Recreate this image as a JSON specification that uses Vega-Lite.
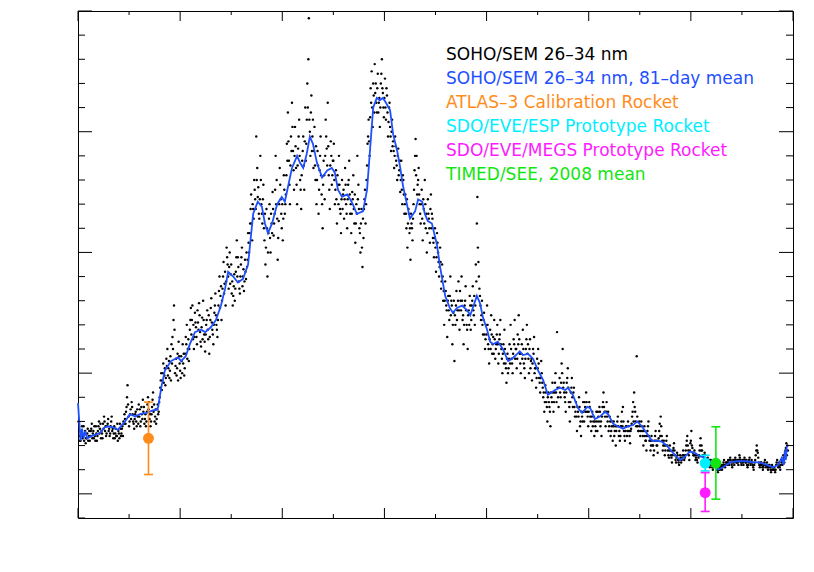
{
"$schema":"https://vega.github.io/schema/vega-lite/v6.json",
"width":715,"height":507,
"autosize":{"type":"none"},
"padding":{"left":78,"top":11,"right":21,"bottom":54},
"background":"white",
"config":{
 "font":"DejaVu Sans",
 "view":{"stroke":"black","strokeWidth":1},
 "axis":{"grid":false,"ticks":false,"domainColor":"black","domainWidth":1,"labelColor":"black","titleColor":"black","labelFontSize":17,"titleFontSize":17,"titleFontWeight":"normal","labelFont":"DejaVu Sans","titleFont":"DejaVu Sans","labelFlush":false,"labelOverlap":false,"labelBound":false,"zindex":1}
},
"datasets":{
"xmaj":[{"v":1996},{"v":1998},{"v":2000},{"v":2002},{"v":2004},{"v":2006},{"v":2008},{"v":2010}],
"xmin":[{"v":1997},{"v":1999},{"v":2001},{"v":2003},{"v":2005},{"v":2007},{"v":2009}],
"ymaj":[{"v":0.5},{"v":1.0},{"v":1.5},{"v":2.0},{"v":2.5}],
"ymin":[{"v":0.4},{"v":0.6},{"v":0.7},{"v":0.8},{"v":0.9},{"v":1.1},{"v":1.2},{"v":1.3},{"v":1.4},{"v":1.6},{"v":1.7},{"v":1.8},{"v":1.9},{"v":2.1},{"v":2.2},{"v":2.3},{"v":2.4}],
"sem":[
{"t":1996.01,"v":0.80},{"t":1996.03,"v":0.74},{"t":1996.05,"v":0.72},{"t":1996.07,"v":0.76},{"t":1996.09,"v":0.73},{"t":1996.11,"v":0.78},{"t":1996.13,"v":0.75},{"t":1996.15,"v":0.71},{"t":1996.17,"v":0.73},{"t":1996.19,"v":0.77},{"t":1996.21,"v":0.74},{"t":1996.23,"v":0.72},{"t":1996.25,"v":0.76},{"t":1996.27,"v":0.79},{"t":1996.29,"v":0.75},{"t":1996.31,"v":0.73},{"t":1996.33,"v":0.74},{"t":1996.35,"v":0.78},{"t":1996.37,"v":0.72},{"t":1996.39,"v":0.76},{"t":1996.41,"v":0.80},{"t":1996.43,"v":0.77},{"t":1996.45,"v":0.73},{"t":1996.47,"v":0.75},{"t":1996.49,"v":0.79},{"t":1996.51,"v":0.82},{"t":1996.53,"v":0.76},{"t":1996.55,"v":0.74},{"t":1996.57,"v":0.78},{"t":1996.59,"v":0.81},{"t":1996.61,"v":0.77},{"t":1996.63,"v":0.75},{"t":1996.65,"v":0.80},{"t":1996.67,"v":0.76},{"t":1996.69,"v":0.73},{"t":1996.71,"v":0.78},{"t":1996.73,"v":0.75},{"t":1996.75,"v":0.74},{"t":1996.77,"v":0.79},{"t":1996.79,"v":0.76},{"t":1996.81,"v":0.73},{"t":1996.83,"v":0.77},{"t":1996.85,"v":0.75},{"t":1996.87,"v":0.78},{"t":1996.89,"v":0.80},
{"t":1996.91,"v":0.83},{"t":1996.93,"v":0.79},{"t":1996.95,"v":0.86},{"t":1996.97,"v":0.95},{"t":1996.99,"v":0.82},{"t":1997.01,"v":0.80},{"t":1997.03,"v":0.85},{"t":1997.05,"v":0.88},{"t":1997.07,"v":0.83},{"t":1997.09,"v":0.79},{"t":1997.11,"v":0.81},{"t":1997.13,"v":0.84},{"t":1997.15,"v":0.78},{"t":1997.17,"v":0.82},{"t":1997.19,"v":0.87},{"t":1997.21,"v":0.85},{"t":1997.23,"v":0.80},{"t":1997.25,"v":0.83},{"t":1997.27,"v":0.89},{"t":1997.29,"v":0.86},{"t":1997.31,"v":0.81},{"t":1997.33,"v":0.78},{"t":1997.35,"v":0.84},{"t":1997.37,"v":0.90},{"t":1997.39,"v":0.88},{"t":1997.41,"v":0.83},{"t":1997.43,"v":0.80},{"t":1997.45,"v":0.86},{"t":1997.47,"v":0.92},{"t":1997.49,"v":0.87},{"t":1997.51,"v":0.82},{"t":1997.53,"v":0.79},{"t":1997.55,"v":0.85},{"t":1997.57,"v":0.83},{"t":1997.59,"v":0.88},
{"t":1997.61,"v":0.94},{"t":1997.63,"v":1.00},{"t":1997.65,"v":0.97},{"t":1997.67,"v":1.04},{"t":1997.69,"v":0.99},{"t":1997.71,"v":0.95},{"t":1997.73,"v":1.06},{"t":1997.75,"v":1.10},{"t":1997.77,"v":1.02},{"t":1997.79,"v":0.98},{"t":1997.81,"v":1.07},{"t":1997.83,"v":1.12},{"t":1997.85,"v":1.15},{"t":1997.87,"v":1.22},{"t":1997.88,"v":1.28},{"t":1997.89,"v":1.18},{"t":1997.91,"v":1.03},{"t":1997.93,"v":0.99},{"t":1997.95,"v":1.08},{"t":1997.97,"v":1.13},{"t":1997.99,"v":1.04},
{"t":1998.01,"v":0.98},{"t":1998.03,"v":1.05},{"t":1998.05,"v":1.12},{"t":1998.07,"v":1.08},{"t":1998.09,"v":1.02},{"t":1998.11,"v":1.15},{"t":1998.13,"v":1.20},{"t":1998.15,"v":1.10},{"t":1998.17,"v":1.05},{"t":1998.19,"v":1.18},{"t":1998.21,"v":1.27},{"t":1998.23,"v":1.22},{"t":1998.25,"v":1.14},{"t":1998.27,"v":1.10},{"t":1998.29,"v":1.25},{"t":1998.31,"v":1.19},{"t":1998.33,"v":1.12},{"t":1998.35,"v":1.21},{"t":1998.37,"v":1.29},{"t":1998.39,"v":1.17},{"t":1998.41,"v":1.11},{"t":1998.43,"v":1.23},{"t":1998.45,"v":1.30},{"t":1998.47,"v":1.16},{"t":1998.49,"v":1.09},{"t":1998.51,"v":1.20},{"t":1998.53,"v":1.26},{"t":1998.55,"v":1.14},{"t":1998.57,"v":1.08},{"t":1998.59,"v":1.22},{"t":1998.61,"v":1.31},{"t":1998.63,"v":1.18},{"t":1998.65,"v":1.12},{"t":1998.67,"v":1.25},{"t":1998.69,"v":1.33},{"t":1998.71,"v":1.20},{"t":1998.73,"v":1.15},{"t":1998.75,"v":1.28},{"t":1998.77,"v":1.40},{"t":1998.79,"v":1.32},{"t":1998.81,"v":1.22},{"t":1998.83,"v":1.35},{"t":1998.85,"v":1.46},{"t":1998.87,"v":1.37},{"t":1998.89,"v":1.28},{"t":1998.91,"v":1.52},{"t":1998.93,"v":1.45},{"t":1998.95,"v":1.35},
{"t":1998.97,"v":1.50},{"t":1998.99,"v":1.41},{"t":1999.01,"v":1.33},{"t":1999.03,"v":1.28},{"t":1999.05,"v":1.36},{"t":1999.07,"v":1.30},{"t":1999.09,"v":1.42},{"t":1999.11,"v":1.55},{"t":1999.13,"v":1.48},{"t":1999.15,"v":1.38},{"t":1999.17,"v":1.33},{"t":1999.19,"v":1.45},{"t":1999.21,"v":1.52},{"t":1999.23,"v":1.40},{"t":1999.25,"v":1.34},{"t":1999.27,"v":1.47},{"t":1999.29,"v":1.39},{"t":1999.31,"v":1.44},{"t":1999.33,"v":1.58},{"t":1999.35,"v":1.50},{"t":1999.37,"v":1.62},{"t":1999.39,"v":1.74},{"t":1999.41,"v":1.55},{"t":1999.43,"v":1.68},{"t":1999.45,"v":1.80},{"t":1999.47,"v":1.72},{"t":1999.49,"v":1.98},{"t":1999.51,"v":1.85},{"t":1999.53,"v":1.77},{"t":1999.55,"v":1.64},{"t":1999.57,"v":1.90},{"t":1999.59,"v":1.70},{"t":1999.61,"v":1.62},{"t":1999.63,"v":1.78},{"t":1999.65,"v":1.55},{"t":1999.67,"v":1.45},{"t":1999.69,"v":1.68},{"t":1999.71,"v":1.40},{"t":1999.73,"v":1.58},{"t":1999.75,"v":1.70},{"t":1999.77,"v":1.50},{"t":1999.79,"v":1.62},{"t":1999.81,"v":1.75},{"t":1999.83,"v":1.57},{"t":1999.85,"v":1.66},{"t":1999.87,"v":1.90},{"t":1999.89,"v":1.80},{"t":1999.91,"v":1.47},{"t":1999.93,"v":1.63},{"t":1999.95,"v":1.85},{"t":1999.97,"v":1.72},{"t":1999.99,"v":1.60},
{"t":2000.01,"v":1.55},{"t":2000.03,"v":1.82},{"t":2000.05,"v":1.66},{"t":2000.07,"v":1.74},{"t":2000.09,"v":1.95},{"t":2000.11,"v":2.08},{"t":2000.13,"v":1.88},{"t":2000.15,"v":1.70},{"t":2000.17,"v":1.98},{"t":2000.19,"v":2.12},{"t":2000.21,"v":1.92},{"t":2000.23,"v":1.76},{"t":2000.25,"v":2.02},{"t":2000.27,"v":1.85},{"t":2000.29,"v":1.70},{"t":2000.31,"v":1.93},{"t":2000.33,"v":2.05},{"t":2000.35,"v":1.80},{"t":2000.37,"v":1.68},{"t":2000.39,"v":1.88},{"t":2000.41,"v":1.98},{"t":2000.43,"v":1.76},{"t":2000.45,"v":2.10},{"t":2000.47,"v":1.95},{"t":2000.49,"v":2.20},{"t":2000.51,"v":2.30},{"t":2000.52,"v":2.47},{"t":2000.53,"v":2.05},{"t":2000.55,"v":1.90},{"t":2000.57,"v":2.15},{"t":2000.59,"v":1.98},{"t":2000.61,"v":1.85},{"t":2000.63,"v":2.02},{"t":2000.65,"v":1.80},{"t":2000.67,"v":1.70},{"t":2000.69,"v":1.92},{"t":2000.71,"v":1.66},{"t":2000.73,"v":1.84},{"t":2000.75,"v":1.98},{"t":2000.77,"v":1.74},{"t":2000.79,"v":1.60},{"t":2000.81,"v":1.88},{"t":2000.83,"v":1.72},{"t":2000.85,"v":2.05},{"t":2000.87,"v":1.93},{"t":2000.89,"v":2.12},{"t":2000.91,"v":1.82},{"t":2000.93,"v":1.68},{"t":2000.95,"v":1.96},{"t":2000.97,"v":1.78},{"t":2000.99,"v":1.88},
{"t":2001.01,"v":1.95},{"t":2001.03,"v":1.70},{"t":2001.05,"v":1.84},{"t":2001.07,"v":1.62},{"t":2001.09,"v":1.78},{"t":2001.11,"v":1.90},{"t":2001.13,"v":1.68},{"t":2001.15,"v":1.58},{"t":2001.17,"v":1.80},{"t":2001.19,"v":1.74},{"t":2001.21,"v":1.64},{"t":2001.23,"v":1.85},{"t":2001.25,"v":1.70},{"t":2001.27,"v":1.60},{"t":2001.29,"v":1.78},{"t":2001.31,"v":1.88},{"t":2001.33,"v":1.66},{"t":2001.35,"v":1.58},{"t":2001.37,"v":1.75},{"t":2001.39,"v":1.82},{"t":2001.41,"v":1.62},{"t":2001.43,"v":1.54},{"t":2001.45,"v":1.70},{"t":2001.47,"v":1.90},{"t":2001.49,"v":1.78},{"t":2001.51,"v":1.60},{"t":2001.53,"v":1.50},{"t":2001.55,"v":1.68},{"t":2001.57,"v":1.44},{"t":2001.59,"v":1.56},{"t":2001.61,"v":1.72},{"t":2001.63,"v":1.62},{"t":2001.65,"v":1.80},{"t":2001.67,"v":1.95},{"t":2001.69,"v":2.05},{"t":2001.71,"v":1.90},{"t":2001.73,"v":2.18},{"t":2001.75,"v":2.25},{"t":2001.77,"v":2.02},{"t":2001.79,"v":2.15},{"t":2001.81,"v":2.28},{"t":2001.83,"v":2.20},{"t":2001.85,"v":2.08},{"t":2001.87,"v":2.24},{"t":2001.89,"v":2.12},{"t":2001.91,"v":2.02},{"t":2001.93,"v":2.20},{"t":2001.95,"v":2.30},{"t":2001.97,"v":2.16},{"t":2001.99,"v":2.06},
{"t":2002.01,"v":2.22},{"t":2002.03,"v":2.05},{"t":2002.05,"v":2.15},{"t":2002.07,"v":1.98},{"t":2002.09,"v":2.10},{"t":2002.11,"v":2.02},{"t":2002.13,"v":1.92},{"t":2002.15,"v":2.05},{"t":2002.17,"v":1.96},{"t":2002.19,"v":1.85},{"t":2002.21,"v":1.98},{"t":2002.23,"v":1.88},{"t":2002.25,"v":1.80},{"t":2002.27,"v":1.93},{"t":2002.29,"v":1.84},{"t":2002.31,"v":1.75},{"t":2002.33,"v":1.88},{"t":2002.35,"v":1.70},{"t":2002.37,"v":1.80},{"t":2002.39,"v":1.66},{"t":2002.41,"v":1.74},{"t":2002.43,"v":1.60},{"t":2002.45,"v":1.52},{"t":2002.47,"v":1.68},{"t":2002.49,"v":1.58},{"t":2002.51,"v":1.47},{"t":2002.53,"v":1.62},{"t":2002.55,"v":1.55},{"t":2002.57,"v":1.70},{"t":2002.59,"v":1.84},{"t":2002.61,"v":1.97},{"t":2002.63,"v":1.90},{"t":2002.65,"v":1.78},{"t":2002.67,"v":1.85},{"t":2002.69,"v":1.70},{"t":2002.71,"v":1.62},{"t":2002.73,"v":1.76},{"t":2002.75,"v":1.55},{"t":2002.77,"v":1.68},{"t":2002.79,"v":1.80},{"t":2002.81,"v":1.60},{"t":2002.83,"v":1.50},{"t":2002.85,"v":1.72},{"t":2002.87,"v":1.64},{"t":2002.89,"v":1.54},{"t":2002.91,"v":1.74},{"t":2002.93,"v":1.66},{"t":2002.95,"v":1.56},{"t":2002.97,"v":1.48},{"t":2002.99,"v":1.60},
{"t":2003.01,"v":1.42},{"t":2003.03,"v":1.58},{"t":2003.05,"v":1.50},{"t":2003.07,"v":1.40},{"t":2003.09,"v":1.52},{"t":2003.11,"v":1.35},{"t":2003.13,"v":1.45},{"t":2003.15,"v":1.30},{"t":2003.17,"v":1.20},{"t":2003.19,"v":1.38},{"t":2003.21,"v":1.28},{"t":2003.23,"v":1.15},{"t":2003.25,"v":1.32},{"t":2003.27,"v":1.22},{"t":2003.29,"v":1.40},{"t":2003.31,"v":1.30},{"t":2003.33,"v":1.12},{"t":2003.35,"v":1.25},{"t":2003.37,"v":1.05},{"t":2003.39,"v":1.20},{"t":2003.41,"v":1.34},{"t":2003.43,"v":1.26},{"t":2003.45,"v":1.38},{"t":2003.47,"v":1.18},{"t":2003.49,"v":1.30},{"t":2003.51,"v":1.40},{"t":2003.53,"v":1.22},{"t":2003.55,"v":1.12},{"t":2003.57,"v":1.28},{"t":2003.59,"v":1.36},{"t":2003.61,"v":1.20},{"t":2003.63,"v":1.10},{"t":2003.65,"v":1.26},{"t":2003.67,"v":1.32},{"t":2003.69,"v":1.18},{"t":2003.71,"v":1.28},{"t":2003.73,"v":1.36},{"t":2003.75,"v":1.24},{"t":2003.77,"v":1.20},{"t":2003.79,"v":1.45},{"t":2003.81,"v":1.62},{"t":2003.82,"v":1.73},{"t":2003.83,"v":1.52},{"t":2003.85,"v":1.40},{"t":2003.87,"v":1.32},{"t":2003.89,"v":1.22},{"t":2003.91,"v":1.30},{"t":2003.93,"v":1.16},{"t":2003.95,"v":1.25},{"t":2003.97,"v":1.10},{"t":2003.99,"v":1.20},
{"t":2004.01,"v":1.28},{"t":2004.03,"v":1.12},{"t":2004.05,"v":1.04},{"t":2004.07,"v":1.18},{"t":2004.09,"v":1.24},{"t":2004.11,"v":1.08},{"t":2004.13,"v":1.15},{"t":2004.15,"v":1.22},{"t":2004.17,"v":1.06},{"t":2004.19,"v":1.12},{"t":2004.21,"v":1.20},{"t":2004.23,"v":1.04},{"t":2004.25,"v":1.14},{"t":2004.27,"v":1.22},{"t":2004.29,"v":1.10},{"t":2004.31,"v":1.00},{"t":2004.33,"v":1.12},{"t":2004.35,"v":1.18},{"t":2004.37,"v":1.04},{"t":2004.39,"v":0.96},{"t":2004.41,"v":1.08},{"t":2004.43,"v":1.02},{"t":2004.45,"v":1.12},{"t":2004.47,"v":1.20},{"t":2004.49,"v":1.06},{"t":2004.51,"v":1.00},{"t":2004.53,"v":1.14},{"t":2004.55,"v":1.22},{"t":2004.57,"v":1.10},{"t":2004.59,"v":1.02},{"t":2004.61,"v":1.16},{"t":2004.63,"v":1.24},{"t":2004.65,"v":1.08},{"t":2004.67,"v":1.00},{"t":2004.69,"v":1.12},{"t":2004.71,"v":1.18},{"t":2004.73,"v":1.04},{"t":2004.75,"v":0.98},{"t":2004.77,"v":1.10},{"t":2004.79,"v":1.20},{"t":2004.81,"v":1.12},{"t":2004.83,"v":1.00},{"t":2004.85,"v":1.14},{"t":2004.87,"v":1.05},{"t":2004.89,"v":0.97},{"t":2004.91,"v":1.10},{"t":2004.93,"v":1.15},{"t":2004.95,"v":1.02},{"t":2004.97,"v":0.94},{"t":2004.99,"v":1.06},
{"t":2005.01,"v":1.10},{"t":2005.03,"v":0.98},{"t":2005.05,"v":0.92},{"t":2005.07,"v":1.05},{"t":2005.09,"v":0.96},{"t":2005.11,"v":0.90},{"t":2005.13,"v":0.84},{"t":2005.15,"v":0.95},{"t":2005.17,"v":0.88},{"t":2005.19,"v":0.80},{"t":2005.21,"v":0.92},{"t":2005.23,"v":0.86},{"t":2005.25,"v":0.78},{"t":2005.27,"v":0.90},{"t":2005.29,"v":0.96},{"t":2005.31,"v":0.84},{"t":2005.33,"v":0.92},{"t":2005.35,"v":1.00},{"t":2005.37,"v":0.88},{"t":2005.38,"v":1.17},{"t":2005.39,"v":0.94},{"t":2005.41,"v":0.86},{"t":2005.43,"v":0.98},{"t":2005.45,"v":0.90},{"t":2005.47,"v":1.04},{"t":2005.49,"v":1.10},{"t":2005.51,"v":0.96},{"t":2005.53,"v":0.90},{"t":2005.55,"v":0.84},{"t":2005.57,"v":0.96},{"t":2005.59,"v":1.02},{"t":2005.61,"v":0.88},{"t":2005.63,"v":0.80},{"t":2005.65,"v":0.92},{"t":2005.67,"v":0.98},{"t":2005.69,"v":0.86},{"t":2005.71,"v":0.94},{"t":2005.73,"v":0.82},{"t":2005.75,"v":0.88},{"t":2005.77,"v":0.76},{"t":2005.79,"v":0.84},{"t":2005.81,"v":0.90},{"t":2005.83,"v":0.78},{"t":2005.85,"v":0.74},{"t":2005.87,"v":0.82},{"t":2005.89,"v":0.88},{"t":2005.91,"v":0.80},{"t":2005.93,"v":0.86},{"t":2005.95,"v":0.92},{"t":2005.97,"v":0.84},{"t":2005.99,"v":0.78},
{"t":2006.01,"v":0.88},{"t":2006.03,"v":0.82},{"t":2006.05,"v":0.76},{"t":2006.07,"v":0.84},{"t":2006.09,"v":0.80},{"t":2006.11,"v":0.74},{"t":2006.13,"v":0.78},{"t":2006.15,"v":0.84},{"t":2006.17,"v":0.76},{"t":2006.19,"v":0.82},{"t":2006.21,"v":0.86},{"t":2006.23,"v":0.78},{"t":2006.25,"v":0.74},{"t":2006.27,"v":0.86},{"t":2006.29,"v":0.92},{"t":2006.31,"v":0.84},{"t":2006.33,"v":0.78},{"t":2006.35,"v":0.88},{"t":2006.37,"v":0.80},{"t":2006.39,"v":0.76},{"t":2006.41,"v":0.82},{"t":2006.43,"v":0.74},{"t":2006.45,"v":0.78},{"t":2006.47,"v":0.72},{"t":2006.49,"v":0.80},{"t":2006.51,"v":0.76},{"t":2006.53,"v":0.70},{"t":2006.55,"v":0.78},{"t":2006.57,"v":0.82},{"t":2006.59,"v":0.74},{"t":2006.61,"v":0.72},{"t":2006.63,"v":0.78},{"t":2006.65,"v":0.84},{"t":2006.67,"v":0.86},{"t":2006.69,"v":0.76},{"t":2006.71,"v":0.72},{"t":2006.73,"v":0.78},{"t":2006.75,"v":0.74},{"t":2006.77,"v":0.80},{"t":2006.79,"v":0.76},{"t":2006.81,"v":0.71},{"t":2006.83,"v":0.77},{"t":2006.85,"v":0.82},{"t":2006.87,"v":0.88},{"t":2006.89,"v":0.92},{"t":2006.91,"v":0.84},{"t":2006.93,"v":0.78},{"t":2006.94,"v":1.07},{"t":2006.95,"v":0.82},{"t":2006.97,"v":0.76},{"t":2006.99,"v":0.80},
{"t":2007.01,"v":0.74},{"t":2007.03,"v":0.80},{"t":2007.05,"v":0.76},{"t":2007.07,"v":0.70},{"t":2007.09,"v":0.78},{"t":2007.11,"v":0.72},{"t":2007.13,"v":0.68},{"t":2007.15,"v":0.76},{"t":2007.17,"v":0.80},{"t":2007.19,"v":0.72},{"t":2007.21,"v":0.68},{"t":2007.23,"v":0.74},{"t":2007.25,"v":0.70},{"t":2007.27,"v":0.66},{"t":2007.29,"v":0.72},{"t":2007.31,"v":0.76},{"t":2007.33,"v":0.70},{"t":2007.35,"v":0.67},{"t":2007.37,"v":0.73},{"t":2007.39,"v":0.79},{"t":2007.41,"v":0.82},{"t":2007.43,"v":0.74},{"t":2007.45,"v":0.68},{"t":2007.47,"v":0.72},{"t":2007.49,"v":0.66},{"t":2007.51,"v":0.70},{"t":2007.53,"v":0.74},{"t":2007.55,"v":0.68},{"t":2007.57,"v":0.65},{"t":2007.59,"v":0.70},{"t":2007.61,"v":0.66},{"t":2007.63,"v":0.63},{"t":2007.65,"v":0.68},{"t":2007.67,"v":0.71},{"t":2007.69,"v":0.66},{"t":2007.71,"v":0.63},{"t":2007.73,"v":0.67},{"t":2007.75,"v":0.64},{"t":2007.77,"v":0.62},{"t":2007.79,"v":0.66},{"t":2007.81,"v":0.63},{"t":2007.83,"v":0.65},{"t":2007.85,"v":0.68},{"t":2007.87,"v":0.64},{"t":2007.89,"v":0.66},{"t":2007.91,"v":0.70},{"t":2007.93,"v":0.74},{"t":2007.95,"v":0.68},{"t":2007.97,"v":0.64},{"t":2007.99,"v":0.71},
{"t":2008.01,"v":0.76},{"t":2008.03,"v":0.69},{"t":2008.05,"v":0.66},{"t":2008.07,"v":0.68},{"t":2008.09,"v":0.64},{"t":2008.11,"v":0.66},{"t":2008.13,"v":0.63},{"t":2008.15,"v":0.65},{"t":2008.17,"v":0.68},{"t":2008.19,"v":0.73},{"t":2008.21,"v":0.70},{"t":2008.23,"v":0.66},{"t":2008.25,"v":0.64},{"t":2008.27,"v":0.67},{"t":2008.29,"v":0.64},{"t":2008.31,"v":0.62},{"t":2008.33,"v":0.65},{"t":2008.35,"v":0.63},{"t":2008.37,"v":0.61},{"t":2008.39,"v":0.64},{"t":2008.41,"v":0.62},{"t":2008.43,"v":0.60},{"t":2008.45,"v":0.62},{"t":2008.47,"v":0.64},{"t":2008.49,"v":0.61},{"t":2008.51,"v":0.60},{"t":2008.53,"v":0.59},{"t":2008.55,"v":0.61},{"t":2008.57,"v":0.60},{"t":2008.59,"v":0.62},{"t":2008.61,"v":0.60},{"t":2008.63,"v":0.62},{"t":2008.65,"v":0.64},{"t":2008.67,"v":0.61},{"t":2008.69,"v":0.63},{"t":2008.71,"v":0.62},{"t":2008.73,"v":0.64},{"t":2008.75,"v":0.62},{"t":2008.77,"v":0.65},{"t":2008.79,"v":0.63},{"t":2008.81,"v":0.61},{"t":2008.83,"v":0.64},{"t":2008.85,"v":0.62},{"t":2008.87,"v":0.65},{"t":2008.89,"v":0.63},{"t":2008.91,"v":0.64},{"t":2008.93,"v":0.62},{"t":2008.95,"v":0.66},{"t":2008.97,"v":0.64},{"t":2008.99,"v":0.62},
{"t":2009.01,"v":0.64},{"t":2009.03,"v":0.62},{"t":2009.05,"v":0.65},{"t":2009.07,"v":0.63},{"t":2009.09,"v":0.64},{"t":2009.11,"v":0.61},{"t":2009.13,"v":0.63},{"t":2009.15,"v":0.65},{"t":2009.17,"v":0.62},{"t":2009.19,"v":0.64},{"t":2009.21,"v":0.62},{"t":2009.23,"v":0.60},{"t":2009.25,"v":0.63},{"t":2009.27,"v":0.66},{"t":2009.29,"v":0.70},{"t":2009.31,"v":0.67},{"t":2009.33,"v":0.63},{"t":2009.35,"v":0.61},{"t":2009.37,"v":0.63},{"t":2009.39,"v":0.62},{"t":2009.41,"v":0.60},{"t":2009.43,"v":0.62},{"t":2009.45,"v":0.64},{"t":2009.47,"v":0.61},{"t":2009.49,"v":0.63},{"t":2009.51,"v":0.60},{"t":2009.53,"v":0.62},{"t":2009.55,"v":0.61},{"t":2009.57,"v":0.59},{"t":2009.59,"v":0.62},{"t":2009.61,"v":0.60},{"t":2009.63,"v":0.61},{"t":2009.65,"v":0.59},{"t":2009.67,"v":0.62},{"t":2009.69,"v":0.64},{"t":2009.71,"v":0.61},{"t":2009.73,"v":0.63},{"t":2009.75,"v":0.60},{"t":2009.77,"v":0.64},{"t":2009.79,"v":0.62},{"t":2009.81,"v":0.66},{"t":2009.83,"v":0.63},{"t":2009.85,"v":0.68},{"t":2009.87,"v":0.71},{"t":2009.88,"v":0.66},{"t":2009.89,"v":0.70},
{"t":1996.02,"v":0.76},{"t":1996.04,"v":0.72},{"t":1996.06,"v":0.75},{"t":1996.08,"v":0.78},{"t":1996.10,"v":0.74},{"t":1996.12,"v":0.72},{"t":1996.14,"v":0.76},{"t":1996.16,"v":0.73},{"t":1996.18,"v":0.75},{"t":1996.20,"v":0.72},{"t":1996.22,"v":0.76},{"t":1996.24,"v":0.74},{"t":1996.26,"v":0.77},{"t":1996.28,"v":0.73},{"t":1996.30,"v":0.76},{"t":1996.32,"v":0.78},{"t":1996.34,"v":0.72},{"t":1996.36,"v":0.75},{"t":1996.38,"v":0.74},{"t":1996.40,"v":0.78},{"t":1996.42,"v":0.75},{"t":1996.44,"v":0.79},{"t":1996.46,"v":0.76},{"t":1996.48,"v":0.73},{"t":1996.50,"v":0.77},{"t":1996.52,"v":0.80},{"t":1996.54,"v":0.78},{"t":1996.56,"v":0.75},{"t":1996.58,"v":0.79},{"t":1996.60,"v":0.76},{"t":1996.62,"v":0.74},{"t":1996.64,"v":0.78},{"t":1996.66,"v":0.82},{"t":1996.68,"v":0.77},{"t":1996.70,"v":0.75},{"t":1996.72,"v":0.73},{"t":1996.74,"v":0.77},{"t":1996.76,"v":0.74},{"t":1996.78,"v":0.72},{"t":1996.80,"v":0.75},{"t":1996.82,"v":0.79},{"t":1996.84,"v":0.74},{"t":1996.86,"v":0.77},{"t":1996.88,"v":0.74},{"t":1996.90,"v":0.79},
{"t":1996.92,"v":0.81},{"t":1996.94,"v":0.84},{"t":1996.96,"v":0.90},{"t":1996.98,"v":0.87},{"t":1997.00,"v":0.78},{"t":1997.02,"v":0.83},{"t":1997.04,"v":0.81},{"t":1997.06,"v":0.86},{"t":1997.08,"v":0.80},{"t":1997.10,"v":0.77},{"t":1997.12,"v":0.83},{"t":1997.14,"v":0.80},{"t":1997.16,"v":0.85},{"t":1997.18,"v":0.79},{"t":1997.20,"v":0.82},{"t":1997.22,"v":0.78},{"t":1997.24,"v":0.86},{"t":1997.26,"v":0.81},{"t":1997.28,"v":0.84},{"t":1997.30,"v":0.79},{"t":1997.32,"v":0.83},{"t":1997.34,"v":0.80},{"t":1997.36,"v":0.87},{"t":1997.38,"v":0.85},{"t":1997.40,"v":0.81},{"t":1997.42,"v":0.78},{"t":1997.44,"v":0.83},{"t":1997.46,"v":0.89},{"t":1997.48,"v":0.84},{"t":1997.50,"v":0.80},{"t":1997.52,"v":0.85},{"t":1997.54,"v":0.81},{"t":1997.56,"v":0.87},{"t":1997.58,"v":0.84},{"t":1997.60,"v":0.90},
{"t":1997.62,"v":0.97},{"t":1997.64,"v":0.93},{"t":1997.66,"v":1.00},{"t":1997.68,"v":0.96},{"t":1997.70,"v":1.02},{"t":1997.72,"v":0.98},{"t":1997.74,"v":1.03},{"t":1997.76,"v":0.99},{"t":1997.78,"v":1.05},{"t":1997.80,"v":1.01},{"t":1997.82,"v":0.97},{"t":1997.84,"v":1.04},{"t":1997.86,"v":1.10},{"t":1997.90,"v":1.00},{"t":1997.92,"v":1.06},{"t":1997.94,"v":1.02},{"t":1997.96,"v":0.97},{"t":1997.98,"v":1.07},{"t":1998.00,"v":1.01},
{"t":1998.02,"v":1.07},{"t":1998.04,"v":1.00},{"t":1998.06,"v":1.04},{"t":1998.08,"v":0.99},{"t":1998.10,"v":1.08},{"t":1998.12,"v":1.12},{"t":1998.14,"v":1.06},{"t":1998.16,"v":1.14},{"t":1998.18,"v":1.10},{"t":1998.20,"v":1.22},{"t":1998.22,"v":1.16},{"t":1998.24,"v":1.28},{"t":1998.26,"v":1.20},{"t":1998.28,"v":1.15},{"t":1998.30,"v":1.21},{"t":1998.32,"v":1.15},{"t":1998.34,"v":1.26},{"t":1998.36,"v":1.18},{"t":1998.38,"v":1.24},{"t":1998.40,"v":1.13},{"t":1998.42,"v":1.19},{"t":1998.44,"v":1.14},{"t":1998.46,"v":1.22},{"t":1998.48,"v":1.13},{"t":1998.50,"v":1.16},{"t":1998.52,"v":1.22},{"t":1998.54,"v":1.18},{"t":1998.56,"v":1.24},{"t":1998.58,"v":1.15},{"t":1998.60,"v":1.27},{"t":1998.62,"v":1.21},{"t":1998.64,"v":1.16},{"t":1998.66,"v":1.20},{"t":1998.68,"v":1.28},{"t":1998.70,"v":1.24},{"t":1998.72,"v":1.18},{"t":1998.74,"v":1.22},{"t":1998.76,"v":1.34},{"t":1998.78,"v":1.27},{"t":1998.80,"v":1.36},{"t":1998.82,"v":1.30},{"t":1998.84,"v":1.40},{"t":1998.86,"v":1.33},{"t":1998.88,"v":1.42},{"t":1998.90,"v":1.38},{"t":1998.92,"v":1.48},{"t":1998.94,"v":1.40},{"t":1998.96,"v":1.44},
{"t":1998.98,"v":1.37},{"t":1999.00,"v":1.45},{"t":1999.02,"v":1.38},{"t":1999.04,"v":1.32},{"t":1999.06,"v":1.41},{"t":1999.08,"v":1.35},{"t":1999.10,"v":1.48},{"t":1999.12,"v":1.40},{"t":1999.14,"v":1.44},{"t":1999.16,"v":1.35},{"t":1999.18,"v":1.40},{"t":1999.20,"v":1.48},{"t":1999.22,"v":1.36},{"t":1999.24,"v":1.43},{"t":1999.26,"v":1.38},{"t":1999.28,"v":1.42},{"t":1999.30,"v":1.50},{"t":1999.32,"v":1.47},{"t":1999.34,"v":1.54},{"t":1999.36,"v":1.58},{"t":1999.38,"v":1.68},{"t":1999.40,"v":1.62},{"t":1999.42,"v":1.70},{"t":1999.44,"v":1.64},{"t":1999.46,"v":1.76},{"t":1999.48,"v":1.68},{"t":1999.50,"v":1.80},{"t":1999.52,"v":1.73},{"t":1999.54,"v":1.66},{"t":1999.56,"v":1.72},{"t":1999.58,"v":1.80},{"t":1999.60,"v":1.66},{"t":1999.62,"v":1.72},{"t":1999.64,"v":1.60},{"t":1999.66,"v":1.66},{"t":1999.68,"v":1.52},{"t":1999.70,"v":1.60},{"t":1999.72,"v":1.50},{"t":1999.74,"v":1.64},{"t":1999.76,"v":1.56},{"t":1999.78,"v":1.66},{"t":1999.80,"v":1.58},{"t":1999.82,"v":1.68},{"t":1999.84,"v":1.62},{"t":1999.86,"v":1.76},{"t":1999.88,"v":1.70},{"t":1999.90,"v":1.64},{"t":1999.92,"v":1.56},{"t":1999.94,"v":1.70},{"t":1999.96,"v":1.78},{"t":1999.98,"v":1.66},
{"t":2000.00,"v":1.70},{"t":2000.02,"v":1.64},{"t":2000.04,"v":1.76},{"t":2000.06,"v":1.70},{"t":2000.08,"v":1.82},{"t":2000.10,"v":1.88},{"t":2000.12,"v":1.96},{"t":2000.14,"v":1.78},{"t":2000.16,"v":1.86},{"t":2000.18,"v":1.92},{"t":2000.20,"v":2.02},{"t":2000.22,"v":1.84},{"t":2000.24,"v":1.90},{"t":2000.26,"v":1.94},{"t":2000.28,"v":1.78},{"t":2000.30,"v":1.86},{"t":2000.32,"v":1.98},{"t":2000.34,"v":1.90},{"t":2000.36,"v":1.76},{"t":2000.38,"v":1.82},{"t":2000.40,"v":1.92},{"t":2000.42,"v":1.86},{"t":2000.44,"v":1.96},{"t":2000.46,"v":1.88},{"t":2000.48,"v":2.05},{"t":2000.50,"v":2.10},{"t":2000.54,"v":2.00},{"t":2000.56,"v":2.08},{"t":2000.58,"v":1.92},{"t":2000.60,"v":2.05},{"t":2000.62,"v":1.92},{"t":2000.64,"v":1.86},{"t":2000.66,"v":1.94},{"t":2000.68,"v":1.80},{"t":2000.70,"v":1.86},{"t":2000.72,"v":1.76},{"t":2000.74,"v":1.90},{"t":2000.76,"v":1.82},{"t":2000.78,"v":1.70},{"t":2000.80,"v":1.78},{"t":2000.82,"v":1.82},{"t":2000.84,"v":1.90},{"t":2000.86,"v":1.98},{"t":2000.88,"v":1.86},{"t":2000.90,"v":1.94},{"t":2000.92,"v":1.76},{"t":2000.94,"v":1.86},{"t":2000.96,"v":1.90},{"t":2000.98,"v":1.82},
{"t":2001.00,"v":1.88},{"t":2001.02,"v":1.80},{"t":2001.04,"v":1.76},{"t":2001.06,"v":1.72},{"t":2001.08,"v":1.82},{"t":2001.10,"v":1.70},{"t":2001.12,"v":1.78},{"t":2001.14,"v":1.66},{"t":2001.16,"v":1.72},{"t":2001.18,"v":1.68},{"t":2001.20,"v":1.76},{"t":2001.22,"v":1.72},{"t":2001.24,"v":1.78},{"t":2001.26,"v":1.66},{"t":2001.28,"v":1.72},{"t":2001.30,"v":1.80},{"t":2001.32,"v":1.74},{"t":2001.34,"v":1.70},{"t":2001.36,"v":1.66},{"t":2001.38,"v":1.72},{"t":2001.40,"v":1.68},{"t":2001.42,"v":1.74},{"t":2001.44,"v":1.62},{"t":2001.46,"v":1.66},{"t":2001.48,"v":1.72},{"t":2001.50,"v":1.68},{"t":2001.52,"v":1.58},{"t":2001.54,"v":1.62},{"t":2001.56,"v":1.52},{"t":2001.58,"v":1.64},{"t":2001.60,"v":1.68},{"t":2001.62,"v":1.76},{"t":2001.64,"v":1.70},{"t":2001.66,"v":1.86},{"t":2001.68,"v":1.98},{"t":2001.70,"v":1.96},{"t":2001.72,"v":2.06},{"t":2001.74,"v":2.12},{"t":2001.76,"v":2.10},{"t":2001.78,"v":2.20},{"t":2001.80,"v":2.08},{"t":2001.82,"v":2.16},{"t":2001.84,"v":2.12},{"t":2001.86,"v":2.18},{"t":2001.88,"v":2.08},{"t":2001.90,"v":2.14},{"t":2001.92,"v":2.10},{"t":2001.94,"v":2.24},{"t":2001.96,"v":2.18},{"t":2001.98,"v":2.10},
{"t":2002.00,"v":2.14},{"t":2002.02,"v":2.10},{"t":2002.04,"v":2.18},{"t":2002.06,"v":2.08},{"t":2002.08,"v":2.04},{"t":2002.10,"v":2.12},{"t":2002.12,"v":1.98},{"t":2002.14,"v":2.00},{"t":2002.16,"v":1.94},{"t":2002.18,"v":1.92},{"t":2002.20,"v":1.90},{"t":2002.22,"v":1.94},{"t":2002.24,"v":1.86},{"t":2002.26,"v":1.90},{"t":2002.28,"v":1.82},{"t":2002.30,"v":1.88},{"t":2002.32,"v":1.80},{"t":2002.34,"v":1.76},{"t":2002.36,"v":1.82},{"t":2002.38,"v":1.74},{"t":2002.40,"v":1.70},{"t":2002.42,"v":1.66},{"t":2002.44,"v":1.72},{"t":2002.46,"v":1.62},{"t":2002.48,"v":1.66},{"t":2002.50,"v":1.60},{"t":2002.52,"v":1.66},{"t":2002.54,"v":1.60},{"t":2002.56,"v":1.64},{"t":2002.58,"v":1.76},{"t":2002.60,"v":1.90},{"t":2002.62,"v":1.82},{"t":2002.64,"v":1.74},{"t":2002.66,"v":1.80},{"t":2002.68,"v":1.74},{"t":2002.70,"v":1.66},{"t":2002.72,"v":1.70},{"t":2002.74,"v":1.64},{"t":2002.76,"v":1.72},{"t":2002.78,"v":1.62},{"t":2002.80,"v":1.70},{"t":2002.82,"v":1.66},{"t":2002.84,"v":1.58},{"t":2002.86,"v":1.66},{"t":2002.88,"v":1.60},{"t":2002.90,"v":1.68},{"t":2002.92,"v":1.60},{"t":2002.94,"v":1.64},{"t":2002.96,"v":1.54},{"t":2002.98,"v":1.56},
{"t":2003.00,"v":1.52},{"t":2003.02,"v":1.48},{"t":2003.04,"v":1.54},{"t":2003.06,"v":1.46},{"t":2003.08,"v":1.44},{"t":2003.10,"v":1.46},{"t":2003.12,"v":1.38},{"t":2003.14,"v":1.40},{"t":2003.16,"v":1.34},{"t":2003.18,"v":1.30},{"t":2003.20,"v":1.34},{"t":2003.22,"v":1.26},{"t":2003.24,"v":1.30},{"t":2003.26,"v":1.26},{"t":2003.28,"v":1.32},{"t":2003.30,"v":1.24},{"t":2003.32,"v":1.28},{"t":2003.34,"v":1.20},{"t":2003.36,"v":1.30},{"t":2003.38,"v":1.24},{"t":2003.40,"v":1.28},{"t":2003.42,"v":1.22},{"t":2003.44,"v":1.30},{"t":2003.46,"v":1.26},{"t":2003.48,"v":1.34},{"t":2003.50,"v":1.26},{"t":2003.52,"v":1.30},{"t":2003.54,"v":1.24},{"t":2003.56,"v":1.20},{"t":2003.58,"v":1.30},{"t":2003.60,"v":1.26},{"t":2003.62,"v":1.18},{"t":2003.64,"v":1.24},{"t":2003.66,"v":1.20},{"t":2003.68,"v":1.28},{"t":2003.70,"v":1.22},{"t":2003.72,"v":1.30},{"t":2003.74,"v":1.26},{"t":2003.76,"v":1.32},{"t":2003.78,"v":1.28},{"t":2003.80,"v":1.38},{"t":2003.84,"v":1.46},{"t":2003.86,"v":1.35},{"t":2003.88,"v":1.28},{"t":2003.90,"v":1.24},{"t":2003.92,"v":1.20},{"t":2003.94,"v":1.22},{"t":2003.96,"v":1.16},{"t":2003.98,"v":1.14},
{"t":2004.00,"v":1.16},{"t":2004.02,"v":1.20},{"t":2004.04,"v":1.10},{"t":2004.06,"v":1.14},{"t":2004.08,"v":1.10},{"t":2004.10,"v":1.16},{"t":2004.12,"v":1.12},{"t":2004.14,"v":1.08},{"t":2004.16,"v":1.14},{"t":2004.18,"v":1.10},{"t":2004.20,"v":1.16},{"t":2004.22,"v":1.12},{"t":2004.24,"v":1.08},{"t":2004.26,"v":1.16},{"t":2004.28,"v":1.12},{"t":2004.30,"v":1.06},{"t":2004.32,"v":1.08},{"t":2004.34,"v":1.04},{"t":2004.36,"v":1.10},{"t":2004.38,"v":1.02},{"t":2004.40,"v":1.06},{"t":2004.42,"v":1.00},{"t":2004.44,"v":1.06},{"t":2004.46,"v":1.04},{"t":2004.48,"v":1.10},{"t":2004.50,"v":1.04},{"t":2004.52,"v":1.08},{"t":2004.54,"v":1.12},{"t":2004.56,"v":1.06},{"t":2004.58,"v":1.10},{"t":2004.60,"v":1.06},{"t":2004.62,"v":1.12},{"t":2004.64,"v":1.14},{"t":2004.66,"v":1.04},{"t":2004.68,"v":1.08},{"t":2004.70,"v":1.06},{"t":2004.72,"v":1.10},{"t":2004.74,"v":1.02},{"t":2004.76,"v":1.06},{"t":2004.78,"v":1.14},{"t":2004.80,"v":1.08},{"t":2004.82,"v":1.06},{"t":2004.84,"v":1.10},{"t":2004.86,"v":1.02},{"t":2004.88,"v":1.06},{"t":2004.90,"v":1.04},{"t":2004.92,"v":1.08},{"t":2004.94,"v":1.00},{"t":2004.96,"v":1.02},{"t":2004.98,"v":0.98},
{"t":2005.00,"v":1.02},{"t":2005.02,"v":1.04},{"t":2005.04,"v":0.96},{"t":2005.06,"v":0.98},{"t":2005.08,"v":1.00},{"t":2005.10,"v":0.94},{"t":2005.12,"v":0.92},{"t":2005.14,"v":0.88},{"t":2005.16,"v":0.92},{"t":2005.18,"v":0.86},{"t":2005.20,"v":0.90},{"t":2005.22,"v":0.88},{"t":2005.24,"v":0.84},{"t":2005.26,"v":0.92},{"t":2005.28,"v":0.88},{"t":2005.30,"v":0.92},{"t":2005.32,"v":0.88},{"t":2005.34,"v":0.96},{"t":2005.36,"v":0.92},{"t":2005.40,"v":0.90},{"t":2005.42,"v":0.94},{"t":2005.44,"v":0.92},{"t":2005.46,"v":0.96},{"t":2005.48,"v":1.00},{"t":2005.50,"v":0.94},{"t":2005.52,"v":0.92},{"t":2005.54,"v":0.88},{"t":2005.56,"v":0.92},{"t":2005.58,"v":0.98},{"t":2005.60,"v":0.94},{"t":2005.62,"v":0.86},{"t":2005.64,"v":0.88},{"t":2005.66,"v":0.94},{"t":2005.68,"v":0.90},{"t":2005.70,"v":0.92},{"t":2005.72,"v":0.86},{"t":2005.74,"v":0.84},{"t":2005.76,"v":0.82},{"t":2005.78,"v":0.86},{"t":2005.80,"v":0.82},{"t":2005.82,"v":0.86},{"t":2005.84,"v":0.80},{"t":2005.86,"v":0.84},{"t":2005.88,"v":0.80},{"t":2005.90,"v":0.84},{"t":2005.92,"v":0.88},{"t":2005.94,"v":0.84},{"t":2005.96,"v":0.88},{"t":2005.98,"v":0.82},
{"t":2006.00,"v":0.84},{"t":2006.02,"v":0.86},{"t":2006.04,"v":0.80},{"t":2006.06,"v":0.82},{"t":2006.08,"v":0.78},{"t":2006.10,"v":0.82},{"t":2006.12,"v":0.80},{"t":2006.14,"v":0.76},{"t":2006.16,"v":0.80},{"t":2006.18,"v":0.84},{"t":2006.20,"v":0.80},{"t":2006.22,"v":0.84},{"t":2006.24,"v":0.80},{"t":2006.26,"v":0.82},{"t":2006.28,"v":0.88},{"t":2006.30,"v":0.86},{"t":2006.32,"v":0.82},{"t":2006.34,"v":0.84},{"t":2006.36,"v":0.82},{"t":2006.38,"v":0.84},{"t":2006.40,"v":0.78},{"t":2006.42,"v":0.80},{"t":2006.44,"v":0.76},{"t":2006.46,"v":0.80},{"t":2006.48,"v":0.78},{"t":2006.50,"v":0.74},{"t":2006.52,"v":0.78},{"t":2006.54,"v":0.76},{"t":2006.56,"v":0.80},{"t":2006.58,"v":0.78},{"t":2006.60,"v":0.76},{"t":2006.62,"v":0.74},{"t":2006.64,"v":0.80},{"t":2006.66,"v":0.78},{"t":2006.68,"v":0.80},{"t":2006.70,"v":0.74},{"t":2006.72,"v":0.76},{"t":2006.74,"v":0.78},{"t":2006.76,"v":0.76},{"t":2006.78,"v":0.78},{"t":2006.80,"v":0.74},{"t":2006.82,"v":0.76},{"t":2006.84,"v":0.79},{"t":2006.86,"v":0.84},{"t":2006.88,"v":0.80},{"t":2006.90,"v":0.86},{"t":2006.92,"v":0.80},{"t":2006.96,"v":0.78},{"t":2006.98,"v":0.76},
{"t":2007.00,"v":0.78},{"t":2007.02,"v":0.76},{"t":2007.04,"v":0.78},{"t":2007.06,"v":0.74},{"t":2007.08,"v":0.76},{"t":2007.10,"v":0.74},{"t":2007.12,"v":0.72},{"t":2007.14,"v":0.74},{"t":2007.16,"v":0.78},{"t":2007.18,"v":0.74},{"t":2007.20,"v":0.72},{"t":2007.22,"v":0.70},{"t":2007.24,"v":0.72},{"t":2007.26,"v":0.70},{"t":2007.28,"v":0.68},{"t":2007.30,"v":0.74},{"t":2007.32,"v":0.72},{"t":2007.34,"v":0.70},{"t":2007.36,"v":0.72},{"t":2007.38,"v":0.76},{"t":2007.40,"v":0.74},{"t":2007.42,"v":0.78},{"t":2007.44,"v":0.72},{"t":2007.46,"v":0.70},{"t":2007.48,"v":0.70},{"t":2007.50,"v":0.68},{"t":2007.52,"v":0.72},{"t":2007.54,"v":0.70},{"t":2007.56,"v":0.66},{"t":2007.58,"v":0.68},{"t":2007.60,"v":0.68},{"t":2007.62,"v":0.65},{"t":2007.64,"v":0.66},{"t":2007.66,"v":0.69},{"t":2007.68,"v":0.68},{"t":2007.70,"v":0.64},{"t":2007.72,"v":0.65},{"t":2007.74,"v":0.66},{"t":2007.76,"v":0.63},{"t":2007.78,"v":0.64},{"t":2007.80,"v":0.65},{"t":2007.82,"v":0.64},{"t":2007.84,"v":0.66},{"t":2007.86,"v":0.66},{"t":2007.88,"v":0.65},{"t":2007.90,"v":0.68},{"t":2007.92,"v":0.72},{"t":2007.94,"v":0.70},{"t":2007.96,"v":0.66},{"t":2007.98,"v":0.68},
{"t":2008.00,"v":0.72},{"t":2008.02,"v":0.70},{"t":2008.04,"v":0.67},{"t":2008.06,"v":0.66},{"t":2008.08,"v":0.66},{"t":2008.10,"v":0.65},{"t":2008.12,"v":0.64},{"t":2008.14,"v":0.66},{"t":2008.16,"v":0.66},{"t":2008.18,"v":0.70},{"t":2008.20,"v":0.68},{"t":2008.22,"v":0.68},{"t":2008.24,"v":0.66},{"t":2008.26,"v":0.65},{"t":2008.28,"v":0.66},{"t":2008.30,"v":0.63},{"t":2008.32,"v":0.64},{"t":2008.34,"v":0.62},{"t":2008.36,"v":0.64},{"t":2008.38,"v":0.62},{"t":2008.40,"v":0.63},{"t":2008.42,"v":0.61},{"t":2008.44,"v":0.61},{"t":2008.46,"v":0.63},{"t":2008.48,"v":0.62},{"t":2008.50,"v":0.61},{"t":2008.52,"v":0.60},{"t":2008.54,"v":0.60},{"t":2008.56,"v":0.62},{"t":2008.58,"v":0.61},{"t":2008.60,"v":0.61},{"t":2008.62,"v":0.61},{"t":2008.64,"v":0.63},{"t":2008.66,"v":0.62},{"t":2008.68,"v":0.62},{"t":2008.70,"v":0.63},{"t":2008.72,"v":0.63},{"t":2008.74,"v":0.63},{"t":2008.76,"v":0.64},{"t":2008.78,"v":0.64},{"t":2008.80,"v":0.62},{"t":2008.82,"v":0.63},{"t":2008.84,"v":0.63},{"t":2008.86,"v":0.64},{"t":2008.88,"v":0.64},{"t":2008.90,"v":0.63},{"t":2008.92,"v":0.63},{"t":2008.94,"v":0.64},{"t":2008.96,"v":0.65},{"t":2008.98,"v":0.63},
{"t":2009.00,"v":0.63},{"t":2009.02,"v":0.63},{"t":2009.04,"v":0.64},{"t":2009.06,"v":0.64},{"t":2009.08,"v":0.63},{"t":2009.10,"v":0.62},{"t":2009.12,"v":0.62},{"t":2009.14,"v":0.64},{"t":2009.16,"v":0.63},{"t":2009.18,"v":0.63},{"t":2009.20,"v":0.63},{"t":2009.22,"v":0.61},{"t":2009.24,"v":0.62},{"t":2009.26,"v":0.64},{"t":2009.28,"v":0.68},{"t":2009.30,"v":0.68},{"t":2009.32,"v":0.65},{"t":2009.34,"v":0.62},{"t":2009.36,"v":0.62},{"t":2009.38,"v":0.63},{"t":2009.40,"v":0.61},{"t":2009.42,"v":0.61},{"t":2009.44,"v":0.63},{"t":2009.46,"v":0.62},{"t":2009.48,"v":0.62},{"t":2009.50,"v":0.61},{"t":2009.52,"v":0.61},{"t":2009.54,"v":0.62},{"t":2009.56,"v":0.60},{"t":2009.58,"v":0.60},{"t":2009.60,"v":0.61},{"t":2009.62,"v":0.60},{"t":2009.64,"v":0.60},{"t":2009.66,"v":0.60},{"t":2009.68,"v":0.63},{"t":2009.70,"v":0.62},{"t":2009.72,"v":0.62},{"t":2009.74,"v":0.61},{"t":2009.76,"v":0.62},{"t":2009.78,"v":0.63},{"t":2009.80,"v":0.64},{"t":2009.82,"v":0.65},{"t":2009.84,"v":0.66},{"t":2009.86,"v":0.69},{"t":2009.90,"v":0.68}
],
"mean":[
{"t":1996.00,"v":0.876},{"t":1996.05,"v":0.72},{"t":1996.08,"v":0.77},{"t":1996.11,"v":0.73},{"t":1996.14,"v":0.76},{"t":1996.18,"v":0.73},{"t":1996.27,"v":0.74},{"t":1996.43,"v":0.752},{"t":1996.52,"v":0.775},{"t":1996.59,"v":0.78},{"t":1996.69,"v":0.775},{"t":1996.78,"v":0.765},{"t":1996.92,"v":0.80},{"t":1997.02,"v":0.83},{"t":1997.12,"v":0.82},{"t":1997.21,"v":0.83},{"t":1997.35,"v":0.835},{"t":1997.45,"v":0.845},{"t":1997.55,"v":0.85},{"t":1997.57,"v":0.86},{"t":1997.63,"v":0.94},{"t":1997.70,"v":1.01},{"t":1997.82,"v":1.05},{"t":1997.96,"v":1.065},{"t":1998.02,"v":1.05},{"t":1998.11,"v":1.07},{"t":1998.19,"v":1.12},{"t":1998.29,"v":1.17},{"t":1998.41,"v":1.18},{"t":1998.49,"v":1.17},{"t":1998.60,"v":1.19},{"t":1998.70,"v":1.22},{"t":1998.80,"v":1.28},{"t":1998.88,"v":1.35},{"t":1998.94,"v":1.42},{"t":1999.04,"v":1.40},{"t":1999.13,"v":1.375},{"t":1999.23,"v":1.39},{"t":1999.33,"v":1.45},{"t":1999.43,"v":1.66},{"t":1999.52,"v":1.71},{"t":1999.60,"v":1.69},{"t":1999.66,"v":1.62},{"t":1999.72,"v":1.58},{"t":1999.80,"v":1.62},{"t":1999.90,"v":1.70},{"t":1999.99,"v":1.73},{"t":2000.05,"v":1.71},{"t":2000.11,"v":1.77},{"t":2000.19,"v":1.85},{"t":2000.29,"v":1.90},{"t":2000.35,"v":1.87},{"t":2000.41,"v":1.85},{"t":2000.48,"v":1.91},{"t":2000.54,"v":1.98},{"t":2000.60,"v":1.95},{"t":2000.68,"v":1.87},{"t":2000.78,"v":1.81},{"t":2000.88,"v":1.84},{"t":2000.97,"v":1.85},{"t":2001.03,"v":1.83},{"t":2001.09,"v":1.76},{"t":2001.17,"v":1.73},{"t":2001.27,"v":1.74},{"t":2001.33,"v":1.72},{"t":2001.38,"v":1.70},{"t":2001.46,"v":1.66},{"t":2001.58,"v":1.67},{"t":2001.66,"v":1.76},{"t":2001.72,"v":1.93},{"t":2001.78,"v":2.10},{"t":2001.85,"v":2.14},{"t":2001.91,"v":2.13},{"t":2001.97,"v":2.14},{"t":2002.03,"v":2.12},{"t":2002.11,"v":2.09},{"t":2002.17,"v":1.99},{"t":2002.25,"v":1.92},{"t":2002.31,"v":1.85},{"t":2002.36,"v":1.78},{"t":2002.44,"v":1.70},{"t":2002.50,"v":1.64},{"t":2002.60,"v":1.67},{"t":2002.66,"v":1.72},{"t":2002.74,"v":1.71},{"t":2002.79,"v":1.66},{"t":2002.85,"v":1.63},{"t":2002.93,"v":1.62},{"t":2003.03,"v":1.53},{"t":2003.09,"v":1.44},{"t":2003.19,"v":1.32},{"t":2003.28,"v":1.27},{"t":2003.34,"v":1.25},{"t":2003.42,"v":1.27},{"t":2003.52,"v":1.28},{"t":2003.62,"v":1.26},{"t":2003.68,"v":1.24},{"t":2003.73,"v":1.27},{"t":2003.81,"v":1.32},{"t":2003.87,"v":1.29},{"t":2003.93,"v":1.23},{"t":2004.01,"v":1.18},{"t":2004.07,"v":1.13},{"t":2004.13,"v":1.12},{"t":2004.22,"v":1.13},{"t":2004.32,"v":1.10},{"t":2004.42,"v":1.05},{"t":2004.50,"v":1.06},{"t":2004.60,"v":1.08},{"t":2004.65,"v":1.09},{"t":2004.71,"v":1.075},{"t":2004.81,"v":1.08},{"t":2004.91,"v":1.06},{"t":2005.01,"v":1.01},{"t":2005.11,"v":0.97},{"t":2005.20,"v":0.91},{"t":2005.34,"v":0.93},{"t":2005.44,"v":0.94},{"t":2005.54,"v":0.93},{"t":2005.59,"v":0.94},{"t":2005.69,"v":0.91},{"t":2005.79,"v":0.855},{"t":2005.87,"v":0.835},{"t":2005.97,"v":0.86},{"t":2006.03,"v":0.855},{"t":2006.12,"v":0.81},{"t":2006.22,"v":0.82},{"t":2006.32,"v":0.84},{"t":2006.38,"v":0.83},{"t":2006.48,"v":0.79},{"t":2006.57,"v":0.78},{"t":2006.67,"v":0.77},{"t":2006.77,"v":0.78},{"t":2006.87,"v":0.785},{"t":2006.95,"v":0.80},{"t":2007.04,"v":0.78},{"t":2007.14,"v":0.75},{"t":2007.24,"v":0.72},{"t":2007.34,"v":0.72},{"t":2007.44,"v":0.715},{"t":2007.53,"v":0.70},{"t":2007.65,"v":0.67},{"t":2007.79,"v":0.64},{"t":2007.89,"v":0.655},{"t":2007.98,"v":0.675},{"t":2008.08,"v":0.67},{"t":2008.18,"v":0.655},{"t":2008.28,"v":0.65},{"t":2008.37,"v":0.635},{"t":2008.53,"v":0.60},{"t":2008.63,"v":0.61},{"t":2008.77,"v":0.63},{"t":2008.90,"v":0.635},{"t":2009.10,"v":0.635},{"t":2009.22,"v":0.63},{"t":2009.35,"v":0.63},{"t":2009.49,"v":0.62},{"t":2009.61,"v":0.61},{"t":2009.71,"v":0.62},{"t":2009.78,"v":0.65},{"t":2009.82,"v":0.62},{"t":2009.84,"v":0.68},{"t":2009.86,"v":0.64},{"t":2009.88,"v":0.70}
],
"rockets":[
{"name":"ATLAS–3 Calibration Rocket","t":1997.38,"v":0.73,"lo":0.58,"hi":0.88},
{"name":"SDO/EVE/ESP Prototype Rocket","t":2008.28,"v":0.627,"lo":0.595,"hi":0.66},
{"name":"SDO/EVE/MEGS Prototype Rocket","t":2008.28,"v":0.505,"lo":0.427,"hi":0.588},
{"name":"TIMED/SEE, 2008 mean","t":2008.49,"v":0.627,"lo":0.478,"hi":0.778}
]
},
"layer":[
{
 "data":{"name":"sem"},
 "mark":{"type":"circle","size":6,"opacity":1},
 "encoding":{
  "x":{"field":"t","type":"quantitative","scale":{"domain":[1996,2010],"nice":false,"zero":false},"axis":null},
  "y":{"field":"v","type":"quantitative","scale":{"domain":[0.4,2.5],"nice":false,"zero":false},"axis":null},
  "color":{"datum":"SOHO/SEM 26–34 nm","type":"nominal","title":null,
   "scale":{"domain":["SOHO/SEM 26–34 nm","SOHO/SEM 26–34 nm, 81–day mean","ATLAS–3 Calibration Rocket","SDO/EVE/ESP Prototype Rocket","SDO/EVE/MEGS Prototype Rocket","TIMED/SEE, 2008 mean"],"range":["#000000","#1e50ff","#ff8c1a","#00eeff","#ff1aff","#11e611"]}}
 }
},
{
 "data":{"name":"mean"},
 "mark":{"type":"line","strokeWidth":1.8},
 "encoding":{
  "x":{"field":"t","type":"quantitative","scale":{"domain":[1996,2010],"nice":false,"zero":false},
   "axis":{"orient":"bottom","values":[1996,1998,2000,2002,2004,2006,2008,2010],"format":"d","ticks":false,"labelPadding":14,"title":"Year","titlePadding":4}},
  "y":{"field":"v","type":"quantitative","scale":{"domain":[0.4,2.5],"nice":false,"zero":false},
   "axis":{"orient":"left","values":[0.5,1.0,1.5,2.0,2.5],"format":".1f","ticks":false,"labelPadding":6,"title":"Solar EUV 26–34 nm Irradiance (mW/m²)","titlePadding":8}},
  "color":{"datum":"SOHO/SEM 26–34 nm, 81–day mean","type":"nominal","title":null,
   "scale":{"domain":["SOHO/SEM 26–34 nm","SOHO/SEM 26–34 nm, 81–day mean","ATLAS–3 Calibration Rocket","SDO/EVE/ESP Prototype Rocket","SDO/EVE/MEGS Prototype Rocket","TIMED/SEE, 2008 mean"],"range":["#000000","#1e50ff","#ff8c1a","#00eeff","#ff1aff","#11e611"]},
   "legend":{"orient":"none","legendX":351,"legendY":35,"title":null,"padding":0,"symbolSize":0,"symbolOpacity":0,"symbolStrokeWidth":0,"labelOffset":0,"labelFontSize":17,"labelFont":"DejaVu Sans","labelLimit":0,"rowPadding":6,
    "encode":{"labels":{"update":{"fill":{"scale":"color","field":"value"}}}}}}
 }
},
{
 "data":{"name":"rockets"},
 "mark":{"type":"rule","strokeWidth":1.6},
 "encoding":{
  "x":{"field":"t","type":"quantitative","scale":{"domain":[1996,2010],"nice":false,"zero":false},"axis":null},
  "y":{"field":"lo","type":"quantitative","scale":{"domain":[0.4,2.5],"nice":false,"zero":false},"axis":null},
  "y2":{"field":"hi"},
  "color":{"field":"name","type":"nominal","title":null,
   "scale":{"domain":["SOHO/SEM 26–34 nm","SOHO/SEM 26–34 nm, 81–day mean","ATLAS–3 Calibration Rocket","SDO/EVE/ESP Prototype Rocket","SDO/EVE/MEGS Prototype Rocket","TIMED/SEE, 2008 mean"],"range":["#000000","#1e50ff","#ff8c1a","#00eeff","#ff1aff","#11e611"]}}
 }
},
{
 "data":{"name":"rockets"},
 "mark":{"type":"rule","strokeWidth":1.6,"xOffset":-4.5,"x2Offset":4.5},
 "encoding":{
  "x":{"field":"t","type":"quantitative","scale":{"domain":[1996,2010],"nice":false,"zero":false},"axis":null},
  "x2":{"field":"t"},
  "y":{"field":"lo","type":"quantitative","scale":{"domain":[0.4,2.5],"nice":false,"zero":false},"axis":null},
  "color":{"field":"name","type":"nominal","title":null,
   "scale":{"domain":["SOHO/SEM 26–34 nm","SOHO/SEM 26–34 nm, 81–day mean","ATLAS–3 Calibration Rocket","SDO/EVE/ESP Prototype Rocket","SDO/EVE/MEGS Prototype Rocket","TIMED/SEE, 2008 mean"],"range":["#000000","#1e50ff","#ff8c1a","#00eeff","#ff1aff","#11e611"]}}
 }
},
{
 "data":{"name":"rockets"},
 "mark":{"type":"rule","strokeWidth":1.6,"xOffset":-4.5,"x2Offset":4.5},
 "encoding":{
  "x":{"field":"t","type":"quantitative","scale":{"domain":[1996,2010],"nice":false,"zero":false},"axis":null},
  "x2":{"field":"t"},
  "y":{"field":"hi","type":"quantitative","scale":{"domain":[0.4,2.5],"nice":false,"zero":false},"axis":null},
  "color":{"field":"name","type":"nominal","title":null,
   "scale":{"domain":["SOHO/SEM 26–34 nm","SOHO/SEM 26–34 nm, 81–day mean","ATLAS–3 Calibration Rocket","SDO/EVE/ESP Prototype Rocket","SDO/EVE/MEGS Prototype Rocket","TIMED/SEE, 2008 mean"],"range":["#000000","#1e50ff","#ff8c1a","#00eeff","#ff1aff","#11e611"]}}
 }
},
{
 "data":{"name":"rockets"},
 "mark":{"type":"circle","size":120,"opacity":1},
 "encoding":{
  "x":{"field":"t","type":"quantitative","scale":{"domain":[1996,2010],"nice":false,"zero":false},"axis":null},
  "y":{"field":"v","type":"quantitative","scale":{"domain":[0.4,2.5],"nice":false,"zero":false},"axis":null},
  "color":{"field":"name","type":"nominal","title":null,
   "scale":{"domain":["SOHO/SEM 26–34 nm","SOHO/SEM 26–34 nm, 81–day mean","ATLAS–3 Calibration Rocket","SDO/EVE/ESP Prototype Rocket","SDO/EVE/MEGS Prototype Rocket","TIMED/SEE, 2008 mean"],"range":["#000000","#1e50ff","#ff8c1a","#00eeff","#ff1aff","#11e611"]}}
 }
},
{"data":{"name":"xmaj"},"mark":{"type":"rule","color":"black","strokeWidth":1,"y2Offset":-10},
 "encoding":{"x":{"field":"v","type":"quantitative","scale":{"domain":[1996,2010],"nice":false,"zero":false},"axis":null},"y":{"datum":0.4,"type":"quantitative","scale":{"domain":[0.4,2.5],"nice":false,"zero":false},"axis":null},"y2":{"datum":0.4}}},
{"data":{"name":"xmin"},"mark":{"type":"rule","color":"black","strokeWidth":1,"y2Offset":-4},
 "encoding":{"x":{"field":"v","type":"quantitative","scale":{"domain":[1996,2010],"nice":false,"zero":false},"axis":null},"y":{"datum":0.4,"type":"quantitative","scale":{"domain":[0.4,2.5],"nice":false,"zero":false},"axis":null},"y2":{"datum":0.4}}},
{"data":{"name":"xmaj"},"mark":{"type":"rule","color":"black","strokeWidth":1,"y2Offset":10},
 "encoding":{"x":{"field":"v","type":"quantitative","scale":{"domain":[1996,2010],"nice":false,"zero":false},"axis":null},"y":{"datum":2.5,"type":"quantitative","scale":{"domain":[0.4,2.5],"nice":false,"zero":false},"axis":null},"y2":{"datum":2.5}}},
{"data":{"name":"xmin"},"mark":{"type":"rule","color":"black","strokeWidth":1,"y2Offset":4},
 "encoding":{"x":{"field":"v","type":"quantitative","scale":{"domain":[1996,2010],"nice":false,"zero":false},"axis":null},"y":{"datum":2.5,"type":"quantitative","scale":{"domain":[0.4,2.5],"nice":false,"zero":false},"axis":null},"y2":{"datum":2.5}}},
{"data":{"name":"ymaj"},"mark":{"type":"rule","color":"black","strokeWidth":1,"x2Offset":14},
 "encoding":{"y":{"field":"v","type":"quantitative","scale":{"domain":[0.4,2.5],"nice":false,"zero":false},"axis":null},"x":{"datum":1996,"type":"quantitative","scale":{"domain":[1996,2010],"nice":false,"zero":false},"axis":null},"x2":{"datum":1996}}},
{"data":{"name":"ymin"},"mark":{"type":"rule","color":"black","strokeWidth":1,"x2Offset":7},
 "encoding":{"y":{"field":"v","type":"quantitative","scale":{"domain":[0.4,2.5],"nice":false,"zero":false},"axis":null},"x":{"datum":1996,"type":"quantitative","scale":{"domain":[1996,2010],"nice":false,"zero":false},"axis":null},"x2":{"datum":1996}}},
{"data":{"name":"ymaj"},"mark":{"type":"rule","color":"black","strokeWidth":1,"x2Offset":-14},
 "encoding":{"y":{"field":"v","type":"quantitative","scale":{"domain":[0.4,2.5],"nice":false,"zero":false},"axis":null},"x":{"datum":2010,"type":"quantitative","scale":{"domain":[1996,2010],"nice":false,"zero":false},"axis":null},"x2":{"datum":2010}}},
{"data":{"name":"ymin"},"mark":{"type":"rule","color":"black","strokeWidth":1,"x2Offset":-7},
 "encoding":{"y":{"field":"v","type":"quantitative","scale":{"domain":[0.4,2.5],"nice":false,"zero":false},"axis":null},"x":{"datum":2010,"type":"quantitative","scale":{"domain":[1996,2010],"nice":false,"zero":false},"axis":null},"x2":{"datum":2010}}}
]
}
